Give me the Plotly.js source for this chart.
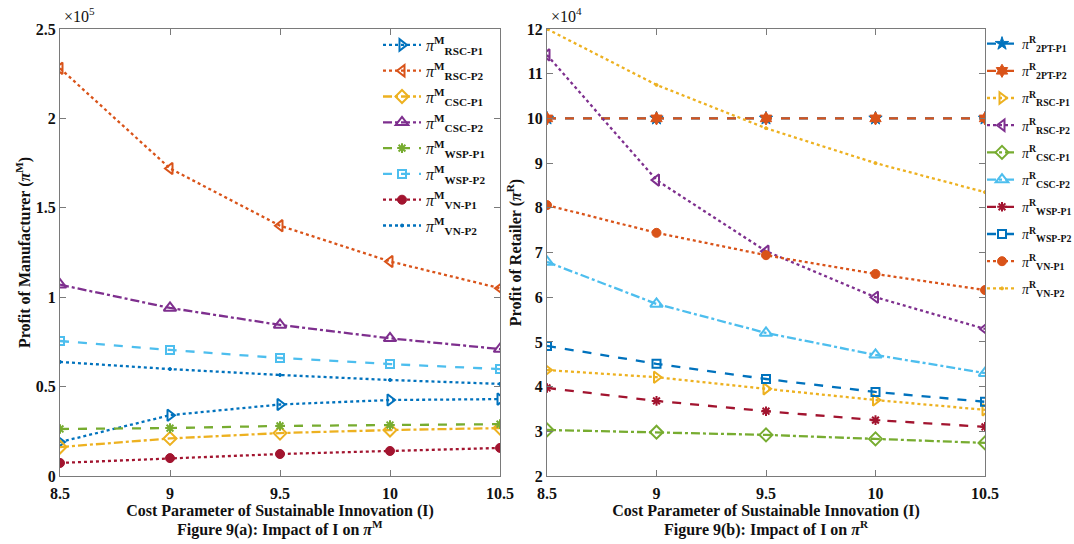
<!DOCTYPE html>
<html><head><meta charset="utf-8">
<script src="https://cdn.plot.ly/plotly-3.0.1.min.js"></script>
<style>body{margin:0;background:#fff}#c{width:1074px;height:544px}</style>
</head><body><div id="c"></div>
<script>
// x values: cost parameter of sustainable innovation (I)
const I = [8.5, 9, 9.5, 10, 10.5];
// Manufacturer profit (x10^5)
const mRSC_P1 = [0.19, 0.34, 0.40, 0.425, 0.43];
const mRSC_P2 = [2.28, 1.72, 1.40, 1.20, 1.05];
const mCSC_P1 = [0.162, 0.21, 0.24, 0.257, 0.268];
const mCSC_P2 = [1.07, 0.94, 0.845, 0.77, 0.71];
const mWSP_P1 = [0.263, 0.268, 0.28, 0.285, 0.29];
const mWSP_P2 = [0.755, 0.705, 0.66, 0.626, 0.598];
const mVN_P1 = [0.073, 0.10, 0.123, 0.14, 0.157];
const mVN_P2 = [0.638, 0.598, 0.565, 0.537, 0.515];
// Retailer profit (x10^4)
const r2PT_P1 = [10, 10, 10, 10, 10];
const r2PT_P2 = [10, 10, 10, 10, 10];
const rRSC_P1 = [4.37, 4.21, 3.95, 3.70, 3.48];
const rRSC_P2 = [11.42, 8.62, 7.03, 6.0, 5.29];
const rCSC_P1 = [3.03, 2.98, 2.92, 2.83, 2.74];
const rCSC_P2 = [6.79, 5.85, 5.20, 4.71, 4.30];
const rWSP_P1 = [3.97, 3.68, 3.45, 3.25, 3.10];
const rWSP_P2 = [4.91, 4.51, 4.17, 3.88, 3.66];
const rVN_P1 = [8.06, 7.44, 6.94, 6.52, 6.16];
const rVN_P2 = [12.0, 10.75, 9.78, 9.0, 8.35];

const xTicks = [8.5, 9, 9.5, 10, 10.5];
const xTickText = ['8.5', '9', '9.5', '10', '10.5'];

const C = {blue:'#0072BD', orange:'#D95319', yellow:'#EDB120', purple:'#7E2F8E',
           green:'#77AC30', lblue:'#4DBEEE', red:'#A2142F'};

function lbl(sup, sub){ return '<i>π</i><sup><b>'+sup+'</b></sup><sub><b>'+sub+'</b></sub>'; }
function tr(y, name, color, dash, sym, size, xa, ya, leg, grp, filled){
  return {x:I, y:y, name:name, type:'scatter', mode:'lines+markers', xaxis:xa, yaxis:ya,
    legend:leg, legendgroup:grp,
    line:{color:color, dash:dash, width:2.3},
    marker:{symbol:sym, size:size, color:color, line:{color:color, width:filled?1:2}}};
}
const data = [
  tr(mRSC_P1, lbl('M','RSC-P1'), C.blue, 'dot', 'triangle-right-open', 10, 'x','y','legend','a1'),
  tr(mRSC_P2, lbl('M','RSC-P2'), C.orange, 'dot', 'triangle-left-open', 10, 'x','y','legend','a2'),
  tr(mCSC_P1, lbl('M','CSC-P1'), C.yellow, 'dashdot', 'diamond-open', 10, 'x','y','legend','a3'),
  tr(mCSC_P2, lbl('M','CSC-P2'), C.purple, 'dashdot', 'triangle-up-open', 11, 'x','y','legend','a4'),
  tr(mWSP_P1, lbl('M','WSP-P1'), C.green, 'dash', 'asterisk-open', 8, 'x','y','legend','a5'),
  tr(mWSP_P2, lbl('M','WSP-P2'), C.lblue, 'dash', 'square-open', 8, 'x','y','legend','a6'),
  tr(mVN_P1, lbl('M','VN-P1'), C.red, 'dot', 'circle', 9, 'x','y','legend','a7', true),
  tr(mVN_P2, lbl('M','VN-P2'), C.blue, 'dot', 'circle', 3, 'x','y','legend','a8', true),

  tr(r2PT_P1, lbl('R','2PT-P1'), C.blue, 'dash', 'star', 10, 'x2','y2','legend2','b1', true),
  tr(r2PT_P2, lbl('R','2PT-P2'), C.orange, 'dash', 'hexagram', 10, 'x2','y2','legend2','b2', true),
  tr(rRSC_P1, lbl('R','RSC-P1'), C.yellow, 'dot', 'triangle-right-open', 10, 'x2','y2','legend2','b3'),
  tr(rRSC_P2, lbl('R','RSC-P2'), C.purple, 'dot', 'triangle-left-open', 10, 'x2','y2','legend2','b4'),
  tr(rCSC_P1, lbl('R','CSC-P1'), C.green, 'dashdot', 'diamond-open', 10, 'x2','y2','legend2','b5'),
  tr(rCSC_P2, lbl('R','CSC-P2'), C.lblue, 'dashdot', 'triangle-up-open', 11, 'x2','y2','legend2','b6'),
  tr(rWSP_P1, lbl('R','WSP-P1'), C.red, 'dash', 'asterisk-open', 8, 'x2','y2','legend2','b7'),
  tr(rWSP_P2, lbl('R','WSP-P2'), C.blue, 'dash', 'square-open', 8, 'x2','y2','legend2','b8'),
  tr(rVN_P1, lbl('R','VN-P1'), C.orange, 'dot', 'circle', 9, 'x2','y2','legend2','b9', true),
  tr(rVN_P2, lbl('R','VN-P2'), C.yellow, 'dot', 'circle', 3, 'x2','y2','legend2','b10', true)
];

const F = 'Liberation Serif';
const axCol = '#7a7a7a';
function xax(dom, anchor){
  return {domain:dom, anchor:anchor, range:[8.5,10.5], tickvals:xTicks, ticktext:xTickText,
    showline:true, linecolor:axCol, linewidth:1, mirror:'ticks', ticks:'inside', ticklen:6,
    tickcolor:axCol, showgrid:false, zeroline:false, ticklabelstandoff:3,
    tickfont:{family:F, size:16, color:'#111', weight:'bold'},
    title:{text:'<b>Cost Parameter of Sustainable Innovation (I)</b>', font:{family:F, size:16, color:'#111'}, standoff:1}};
}
function yax(dom, anchor, range, dtick, title){
  return {domain:dom, anchor:anchor, range:range, dtick:dtick, tick0:0,
    showline:true, linecolor:axCol, linewidth:1, mirror:'ticks', ticks:'inside', ticklen:6,
    tickcolor:axCol, showgrid:false, zeroline:false,
    tickfont:{family:F, size:16, color:'#111', weight:'bold'},
    title:{text:title, font:{family:F, size:16, color:'#111'}, standoff:1}};
}
const yd = [1-476/544, 1-29/544];
const layout = {
  width:1074, height:544, margin:{l:0,r:0,t:0,b:0, autoexpand:false},
  paper_bgcolor:'#fff', plot_bgcolor:'#fff', font:{family:F},
  xaxis: xax([60/1074, 500/1074], 'y'),
  yaxis: yax(yd, 'x', [0,2.5], 0.5, '<b>Profit of Manufacturer (<i>π</i><sup>M</sup>)</b>'),
  xaxis2: xax([547/1074, 985/1074], 'y2'),
  yaxis2: yax(yd, 'x2', [2,12], 1, '<b>Profit of Retailer (<i>π</i><sup>R</sup>)</b>'),
  legend:{x:378/1074, y:1-28/544, xanchor:'left', yanchor:'top', bgcolor:'rgba(255,255,255,0)',
    font:{family:F, size:16, color:'#111'}, tracegroupgap:2, itemwidth:38},
  legend2:{x:982/1074, y:1-28/544, xanchor:'left', yanchor:'top', bgcolor:'rgba(255,255,255,0)',
    font:{family:F, size:14, color:'#111'}, tracegroupgap:6, itemwidth:30},
  annotations:[
    {text:'×10<sup>5</sup>', x:62/1074, y:1-27/544, xref:'paper', yref:'paper', xanchor:'left', yanchor:'bottom',
     showarrow:false, font:{family:F, size:16, color:'#111'}},
    {text:'×10<sup>4</sup>', x:549/1074, y:1-27/544, xref:'paper', yref:'paper', xanchor:'left', yanchor:'bottom',
     showarrow:false, font:{family:F, size:16, color:'#111'}},
    {text:'<b>Figure 9(a): Impact of I on <i>π</i><sup>M</sup></b>', x:280/1074, y:1-528/544, xref:'paper', yref:'paper',
     xanchor:'center', yanchor:'middle', showarrow:false, font:{family:F, size:16, color:'#111'}},
    {text:'<b>Figure 9(b): Impact of I on <i>π</i><sup>R</sup></b>', x:766/1074, y:1-528/544, xref:'paper', yref:'paper',
     xanchor:'center', yanchor:'middle', showarrow:false, font:{family:F, size:16, color:'#111'}}
  ]
};
Plotly.newPlot('c', data, layout, {staticPlot:true, displayModeBar:false});
</script></body></html>
